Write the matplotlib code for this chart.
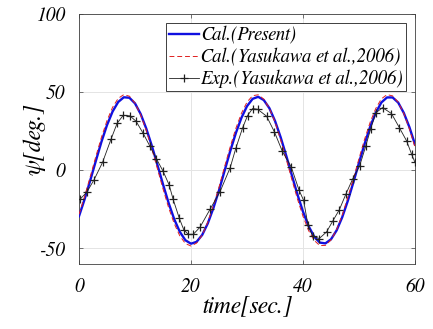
import numpy as np
import matplotlib
matplotlib.use("Agg")
import matplotlib.pyplot as plt

# heading angle time histories (zig-zag manoeuvre)
t_cal = list(range(0, 61))
psi_present = [-29.4, -18.6, -6.6, 5.9, 18.1, 28.9, 37.6, 43.7, 46.7, 46.4,
               42.8, 36.1, 26.8, 15.7, 3.5, -9.0, -20.9, -31.3, -39.4, -44.8,
               -47.0, -45.8, -41.4, -34.0, -24.2, -12.9, -0.3, 12.2, 23.7, 33.5,
               41.0, 45.7, 47.0, 44.9, 39.7, 31.6, 21.2, 9.4, -3.1, -15.4,
               -26.5, -35.8, -42.5, -46.3, -46.8, -44.2, -38.5, -30.1, -19.6, -7.7,
               4.8, 16.9, 27.9, 36.9, 43.4, 46.6, 46.6, 43.3, 36.7, 27.6,
               16.5]
psi_yasukawa = [-28.2, -16.8, -4.2, 8.7, 21.0, 31.8, 40.3, 46.0, 48.4, 47.4,
                43.0, 35.5, 25.6, 13.7, 1.0, -11.9, -23.9, -34.1, -42.0, -46.9,
                -48.5, -46.6, -41.5, -33.2, -22.6, -10.8, 2.3, 15.0, 26.7, 36.4,
                43.6, 47.7, 48.3, 45.5, 39.5, 30.9, 19.5, 7.1, -5.8, -18.3,
                -29.5, -38.6, -44.9, -48.2, -48.1, -44.6, -38.0, -28.7, -17.4, -5.3,
                7.5, 19.9, 30.8, 39.6, 45.7, 48.4, 47.6, 43.5, 36.3, 26.5,
                14.7]

t_exp = [0.2, 1.4, 2.7, 4.2, 5.7, 6.8, 7.9, 9.1, 10.2, 11.4, 12.6, 13.8, 15.0,
         16.1, 16.8, 17.9, 18.7, 19.5, 20.4, 21.6, 23.4, 25.2, 27.0, 28.0,
         29.2, 30.1, 31.0, 31.9, 33.5, 34.9, 36.3, 37.9, 39.3, 40.1, 40.9,
         41.7, 42.9, 44.2, 45.3, 46.5, 47.7, 48.9, 50.1, 51.2, 52.1, 53.0,
         54.2, 55.8, 57.2, 58.5, 59.4, 60.0]
psi_exp = [-18.5, -14.0, -6.0, 5.0, 19.7, 30.0, 35.2, 34.8, 31.3, 24.0, 15.8, 7.5, -0.5,
           -9.4, -18.5, -30.6, -38.0, -41.0, -41.0, -36.5, -25.0, -13.6, 1.7, 14.0,
           27.0, 35.0, 39.5, 39.0, 34.6, 24.5, 12.2, 2.1, -12.8, -19.2, -35.2,
           -42.0, -43.7, -39.5, -32.6, -25.2, -14.9, -5.3, 2.6, 15.4, 26.7, 36.7,
           40.1, 36.3, 27.3, 18.8, 10.2, 5.0]

plt.rcParams['font.family'] = 'serif'
plt.rcParams['font.serif'] = ['FreeSerif', 'Liberation Serif', 'DejaVu Serif']
plt.rcParams['font.style'] = 'italic'
plt.rcParams['axes.unicode_minus'] = False

fig = plt.figure(figsize=(4.33, 3.29), dpi=100)
ax = fig.add_axes([79/433, 1-264/329, 336/433, 250/329])

ax.plot(t_cal, psi_present, color='#1010e0', lw=1.7, label='Cal.(Present)', zorder=3)
ax.plot(t_cal, psi_yasukawa, color='#e02020', lw=0.7, ls=(0, (5, 3)),
        label='Cal.(Yasukawa et al.,2006)', zorder=4)
ax.plot(t_exp, psi_exp, color='#202020', lw=0.6, marker='+', ms=6, mew=0.9,
        label='Exp.(Yasukawa et al.,2006)', zorder=5)

ax.set_xlim(0, 60)
ax.set_ylim(-60, 100)
ax.set_xticks([0, 20, 40, 60])
ax.set_yticks([-50, 0, 50, 100])
ax.grid(True, color='#e4e4e4', lw=0.7)
ax.tick_params(direction='in', top=True, right=True, length=3, width=0.5,
               color='#404040', labelsize=14, pad=10)
for s in ax.spines.values():
    s.set_color('#404040')
    s.set_linewidth(0.6)

ax.set_xlabel('time[sec.]', fontsize=17, labelpad=-1)
ax.set_ylabel('ψ[deg.]', fontsize=17, labelpad=-6)

leg = ax.legend(loc='upper right', fontsize=13.5, frameon=True, fancybox=False,
                edgecolor='#202020', framealpha=1, handlelength=1.6,
                handletextpad=0.1, labelspacing=0.18, borderpad=0.15,
                borderaxespad=0.5)
leg.get_frame().set_linewidth(0.6)

fig.savefig('out.png', dpi=100)
